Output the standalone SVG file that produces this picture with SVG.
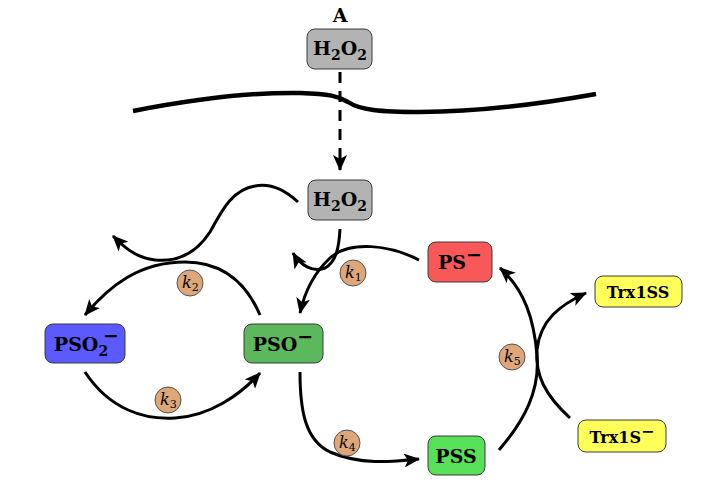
<svg xmlns="http://www.w3.org/2000/svg" width="720" height="486" viewBox="0 0 720 486">
<style>
.box{stroke:#3a3a3a;stroke-width:1}
.lbl{font-family:"DejaVu Serif","Liberation Serif",serif;font-weight:bold;font-size:19px;fill:#000}
.sub{font-size:14px}
.con{fill:none;stroke:#000;stroke-width:3}
.kc{fill:#dea77a;stroke:#555;stroke-width:1}
.kt{font-family:"DejaVu Serif","Liberation Serif",serif;font-style:italic;font-size:16px;fill:#000}
.ks{font-family:"DejaVu Serif","Liberation Serif",serif;font-style:normal;font-size:11px}
</style>
<defs>
<marker id="ah" viewBox="0 0 16 14" refX="15" refY="7" markerWidth="16" markerHeight="14" markerUnits="userSpaceOnUse" orient="auto">
<path d="M0,0 L16,7 L0,14 L4,7 z" fill="#000"/>
</marker>
</defs>
<rect width="720" height="486" fill="#fff"/>
<text x="340" y="22" text-anchor="middle" class="lbl" style="font-size:19px">A</text>
<path d="M133,111 C190,100 250,92 300,93 C330,94 338,96 348,102 C360,110 380,112 420,112 C480,112 540,104 596,94" fill="none" stroke="#000" stroke-width="4.5"/>
<g id="connectors">
<path class="con" d="M340,72 L340,170" stroke-dasharray="11 8" marker-end="url(#ah)"/>
<path class="con" d="M298,202 C285,190 270,183 255,186 C230,190 220,215 210,232 C195,255 175,262 155,260 C135,258 122,245 113,236" marker-end="url(#ah)"/>
<path class="con" d="M340,229 C339,248 336,262 325,268 C313,273 300,265 293,253" marker-end="url(#ah)"/>
<path class="con" d="M419,260 C390,245 350,240 330,258 C315,272 305,290 300,313" marker-end="url(#ah)"/>
<path class="con" d="M260,315 C245,280 220,262 185,262 C140,262 110,285 85,315" marker-end="url(#ah)"/>
<path class="con" d="M85,372 C110,410 145,420 175,418 C210,416 240,395 260,373" marker-end="url(#ah)"/>
<path class="con" d="M300,372 C300,410 305,440 330,452 C360,465 390,462 419,459" marker-end="url(#ah)"/>
<path class="con" d="M499,450 C525,420 540,390 537,355 C534,320 525,290 500,268" marker-end="url(#ah)"/>
<path class="con" d="M570,418 C545,395 535,375 537,350 C540,320 560,305 586,293" marker-end="url(#ah)"/>
</g>
<g id="k1"><circle class="kc" cx="353" cy="273" r="13"/><text class="kt" x="345" y="278">k<tspan class="ks" dy="3">1</tspan></text></g>
<g id="k2"><circle class="kc" cx="190" cy="283" r="13"/><text class="kt" x="182" y="288">k<tspan class="ks" dy="3">2</tspan></text></g>
<g id="k3"><circle class="kc" cx="168" cy="400" r="13"/><text class="kt" x="160" y="405">k<tspan class="ks" dy="3">3</tspan></text></g>
<g id="k4"><circle class="kc" cx="347" cy="443" r="13"/><text class="kt" x="339" y="448">k<tspan class="ks" dy="3">4</tspan></text></g>
<g id="k5"><circle class="kc" cx="512" cy="357" r="13"/><text class="kt" x="504" y="362">k<tspan class="ks" dy="3">5</tspan></text></g>
<g id="h2o2-top"><rect class="box" x="307" y="29" width="65" height="40" rx="8" fill="#b3b3b3"/><text class="lbl" x="340" y="55" text-anchor="middle">H<tspan class="sub" dy="5">2</tspan><tspan dy="-5">O</tspan><tspan class="sub" dy="5">2</tspan></text></g>
<g id="h2o2"><rect class="box" x="308" y="180" width="64" height="40" rx="8" fill="#b3b3b3"/><text class="lbl" x="340" y="206" text-anchor="middle">H<tspan class="sub" dy="5">2</tspan><tspan dy="-5">O</tspan><tspan class="sub" dy="5">2</tspan></text></g>
<g id="ps"><rect class="box" x="428" y="242" width="64" height="40" rx="8" fill="#f85858"/><text class="lbl" x="460" y="269" text-anchor="middle">PS<tspan dy="-8">−</tspan></text></g>
<g id="pso"><rect class="box" x="244" y="324" width="79" height="39" rx="8" fill="#5cb85c"/><text class="lbl" x="283" y="351" text-anchor="middle">PSO<tspan dy="-8">−</tspan></text></g>
<g id="pso2"><rect class="box" x="45" y="324" width="80" height="39" rx="8" fill="#5a5aff"/><text class="lbl" x="81" y="351" text-anchor="middle">PSO<tspan class="sub" dy="5">2</tspan></text><text class="lbl" x="111" y="342" text-anchor="middle">−</text></g>
<g id="pss"><rect class="box" x="428" y="436" width="57" height="39" rx="8" fill="#58e058"/><text class="lbl" x="456" y="463" text-anchor="middle">PSS</text></g>
<g id="trx1ss"><rect class="box" x="595" y="276" width="87" height="31" rx="8" fill="#ffff5a"/><text class="lbl" x="638" y="298" text-anchor="middle" style="font-size:16px">Trx1SS</text></g>
<g id="trx1s"><rect class="box" x="578" y="420" width="88" height="32" rx="8" fill="#ffff5a"/><text class="lbl" x="622" y="443" text-anchor="middle" style="font-size:16px">Trx1S<tspan dy="-6">−</tspan></text></g>
</svg>
